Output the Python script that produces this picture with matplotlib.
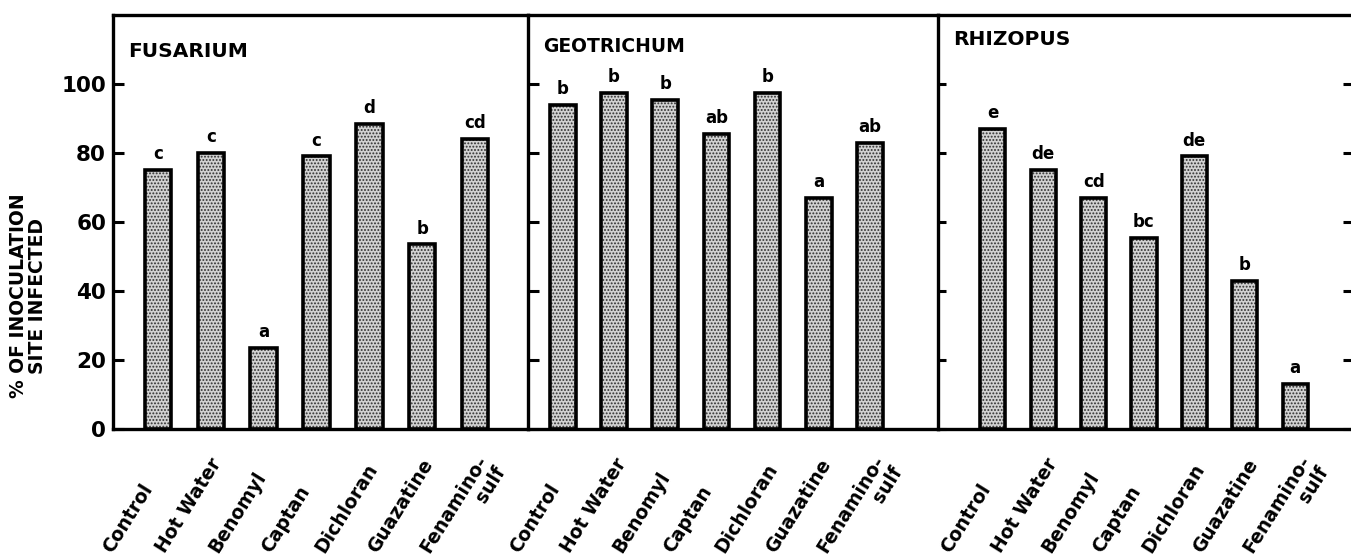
import numpy as np
import matplotlib
matplotlib.use("Agg")
import matplotlib.pyplot as plt
from matplotlib.transforms import blended_transform_factory

# ---- data ----
treatments = ["Control", "Hot Water", "Benomyl", "Captan", "Dichloran", "Guazatine", "Fenamino-\nsulf"]
pathogens = ["FUSARIUM", "GEOTRICHUM", "RHIZOPUS"]
fusarium = [75, 80, 23.5, 79, 88.5, 53.5, 84]
geotrichum = [94, 97.5, 95.5, 85.5, 97.5, 67, 83]
rhizopus = [87, 75, 67, 55.5, 79, 43, 13]
fusarium_letters = ["c", "c", "a", "c", "d", "b", "cd"]
geotrichum_letters = ["b", "b", "b", "ab", "b", "a", "ab"]
rhizopus_letters = ["e", "de", "cd", "bc", "de", "b", "a"]
yticks = [0, 20, 40, 60, 80, 100]
ylabel = "% OF INOCULATION\nSITE INFECTED"

values = [fusarium, geotrichum, rhizopus]
letters = [fusarium_letters, geotrichum_letters, rhizopus_letters]

# ---- layout/style ----
plt.rcParams['font.family'] = ['DejaVu Sans']
plt.rcParams['font.weight'] = 'bold'
plt.rcParams['hatch.linewidth'] = 0.9

DPI = 100
fig = plt.figure(figsize=(13.51, 5.57), dpi=DPI)
renderer = fig.canvas.get_renderer()
L, R = 113 / 1351, 1.0
B, T = 1 - 429 / 557, 1 - 15 / 557
gs = fig.add_gridspec(1, 3, left=L, right=R, bottom=B, top=T, wspace=0,
                      width_ratios=[415, 410, 413])
xlims = [(-0.85, 7.0), (-0.68, 7.33), (-1.09, 7.11)]
title_y = [0.912, 0.925, 0.942]
title_size = [14.5, 13.5, 14.5]
LAB_FS = 13.5
ANG = 58
ang = np.deg2rad(ANG)


def text_width_pt(s, fs):
    t = fig.text(0, 0, s, fontsize=fs, fontweight='bold')
    w = t.get_window_extent(renderer=renderer).width
    t.remove()
    return w * 72 / DPI


x = np.arange(len(treatments))
for k in range(3):
    ax = fig.add_subplot(gs[0, k])
    vals = values[k]
    ax.bar(x, vals, 0.5, color='#d2d2d2', edgecolor='#303030', hatch='.....',
           linewidth=0, zorder=2)
    ax.bar(x, vals, 0.5, fill=False, edgecolor='black', linewidth=2.6, zorder=3)
    for xi, v, lt in zip(x, vals, letters[k]):
        ax.text(xi, v + 2.0, lt, ha='center', va='bottom', fontsize=12,
                fontweight='bold')
    ax.set_xlim(*xlims[k])
    ax.set_ylim(0, 120)
    ax.set_yticks(yticks)
    ax.tick_params(axis='y', direction='in', length=8, width=2.2, labelsize=15.5,
                   pad=5)
    ax.set_xticks([])
    for s in ax.spines.values():
        s.set_linewidth(2.4)
    ax.spines['right'].set_visible(False)
    if k > 0:
        ax.tick_params(axis='y', labelleft=False)
    if k == 2:
        ax.tick_params(axis='y', right=True, length=6)
    ax.text(0.036, title_y[k], pathogens[k], transform=ax.transAxes,
            fontsize=title_size[k], fontweight='bold', ha='left', va='center')
    trans = blended_transform_factory(ax.transData, ax.transAxes)
    for xi, lab in zip(x, treatments):
        lines = lab.split("\n")
        pos = (xi - 1.10, -0.282)
        ax.text(*pos, lines[0], transform=trans, rotation=ANG,
                rotation_mode='anchor', ha='left', va='top',
                fontsize=LAB_FS, fontweight='bold')
        if len(lines) > 1:
            w1 = text_width_pt(lines[0], LAB_FS)
            h = LAB_FS * 1.12
            dx = w1 * np.cos(ang) + h * np.sin(ang)
            dy = w1 * np.sin(ang) - h * np.cos(ang)
            ax.annotate(lines[1], xy=pos, xycoords=trans, xytext=(dx, dy),
                        textcoords='offset points', rotation=ANG,
                        rotation_mode='anchor', ha='right', va='top',
                        fontsize=LAB_FS, fontweight='bold')
    if k == 0:
        ax.set_ylabel(ylabel, fontsize=13.5, fontweight='bold', linespacing=1.0)
        ax.yaxis.set_label_coords(-0.158, 0.322)

fig.savefig("out.png", dpi=DPI)
